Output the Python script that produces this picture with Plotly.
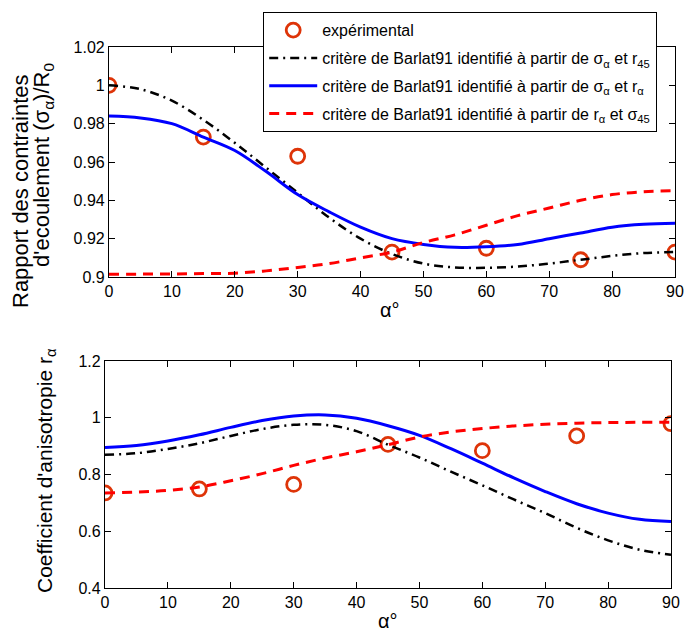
import plotly.graph_objects as go

# ---------------- data ----------------
angles_exp = [0, 15, 30, 45, 60, 75, 90]
sigma_exp = [1.000, 0.973, 0.963, 0.913, 0.915, 0.909, 0.913]
r_exp = [0.735, 0.749, 0.765, 0.906, 0.884, 0.936, 0.979]

angles = [0, 5, 10, 15, 20, 25, 30, 35, 40, 45, 50, 55, 60, 65, 70, 75, 80, 85, 90]

# top: yield stress ratio
sigma_s_r45 = [1.000, 0.998, 0.992, 0.982, 0.970, 0.957, 0.944, 0.931, 0.920, 0.912,
               0.907, 0.905, 0.9048, 0.9055, 0.907, 0.909, 0.911, 0.9125, 0.913]
sigma_s_r = [0.984, 0.983, 0.980, 0.973, 0.966, 0.955, 0.943, 0.934, 0.926, 0.920,
             0.917, 0.9155, 0.9158, 0.917, 0.920, 0.923, 0.926, 0.9275, 0.928]
sigma_r_s45 = [0.9015, 0.9015, 0.9016, 0.9018, 0.902, 0.9032, 0.905, 0.907, 0.910, 0.913,
               0.918, 0.922, 0.927, 0.932, 0.936, 0.940, 0.943, 0.9445, 0.945]

# bottom: anisotropy coefficient
r_s_r45 = [0.870, 0.875, 0.890, 0.910, 0.936, 0.960, 0.975, 0.975, 0.953, 0.905,
           0.860, 0.810, 0.762, 0.712, 0.664, 0.612, 0.568, 0.535, 0.517]
r_s_r = [0.895, 0.902, 0.918, 0.940, 0.966, 0.990, 1.006, 1.010, 0.998, 0.972,
         0.938, 0.891, 0.840, 0.788, 0.740, 0.697, 0.664, 0.642, 0.634]
r_r_s45 = [0.735, 0.738, 0.744, 0.756, 0.778, 0.803, 0.832, 0.858, 0.880, 0.905,
           0.932, 0.950, 0.962, 0.971, 0.977, 0.981, 0.983, 0.984, 0.984]

x_ticks = [0, 10, 20, 30, 40, 50, 60, 70, 80, 90]

name_exp = "expérimental"
name_a = "critère de Barlat91 identifié à partir de σ<sub>α</sub> et r<sub>45</sub>"
name_b = "critère de Barlat91 identifié à partir de σ<sub>α</sub> et r<sub>α</sub>"
name_c = "critère de Barlat91 identifié à partir de r<sub>α</sub> et σ<sub>45</sub>"

# ---------------- styles ----------------
FONT = "Liberation Sans, Arial, sans-serif"
RED_M = "rgb(222,52,8)"
W, H = 685, 633

fig = go.Figure()

def add_set(xa, ya, s1, s2, s3, exp, show):
    fig.add_trace(go.Scatter(x=angles_exp, y=exp, mode="markers", name=name_exp,
                             xaxis=xa, yaxis=ya, showlegend=show, legendgroup="g1",
                             marker=dict(symbol="circle-open", size=14, color=RED_M,
                                         line=dict(width=2.8, color=RED_M))))
    fig.add_trace(go.Scatter(x=angles, y=s1, mode="lines", name=name_a, line_shape="spline",
                             xaxis=xa, yaxis=ya, showlegend=show, legendgroup="g2",
                             line=dict(color="black", width=2.5, dash="9px,5px,2px,5px")))
    fig.add_trace(go.Scatter(x=angles, y=s2, mode="lines", name=name_b, line_shape="spline",
                             xaxis=xa, yaxis=ya, showlegend=show, legendgroup="g3",
                             line=dict(color="rgb(0,0,255)", width=3)))
    fig.add_trace(go.Scatter(x=angles, y=s3, mode="lines", name=name_c, line_shape="spline",
                             xaxis=xa, yaxis=ya, showlegend=show, legendgroup="g4",
                             line=dict(color="rgb(255,0,0)", width=3, dash="10px,7px")))

add_set("x", "y", sigma_s_r45, sigma_s_r, sigma_r_s45, sigma_exp, True)
add_set("x2", "y2", r_s_r45, r_s_r, r_r_s45, r_exp, False)

axis_common = dict(showline=True, linecolor="black", linewidth=1.2, mirror="ticks",
                   ticks="inside", ticklen=6, tickcolor="black", showgrid=False,
                   zeroline=False, automargin=False,
                   tickfont=dict(size=16, color="black", family=FONT))

# pixel layout
top = dict(l=109, r=675, t=47, b=277)
bot = dict(l=105, r=671, t=361, b=588)

fig.update_layout(
    width=W, height=H, margin=dict(l=0, r=0, t=0, b=0, pad=0, autoexpand=False),
    paper_bgcolor="white", plot_bgcolor="white",
    font=dict(family=FONT, color="black"),
    xaxis=dict(domain=[top["l"] / W, top["r"] / W], range=[0, 90], tickvals=x_ticks,
               anchor="y", **axis_common),
    yaxis=dict(domain=[1 - top["b"] / H, 1 - top["t"] / H], range=[0.9, 1.02], dtick=0.02,
               tick0=0.9, anchor="x", **axis_common),
    xaxis2=dict(domain=[bot["l"] / W, bot["r"] / W], range=[0, 90], tickvals=x_ticks,
                anchor="y2", **axis_common),
    yaxis2=dict(domain=[1 - bot["b"] / H, 1 - bot["t"] / H], range=[0.4, 1.2], dtick=0.2,
                tick0=0.4, anchor="x2", **axis_common),
    legend=dict(x=263 / W, y=1 - 12 / H, xanchor="left", yanchor="top",
                bgcolor="white", bordercolor="black", borderwidth=1.2,
                font=dict(size=16, family=FONT, color="black"),
                tracegroupgap=4, itemwidth=48),
    showlegend=True,
)

annots = [
    dict(text="Rapport des contraintes", x=21 / W, y=1 - 191 / H, textangle=-90,
         font=dict(size=22)),
    dict(text="d'ecoulement (σ<sub>α</sub>)/R<sub>0</sub>", x=43 / W, y=1 - 165 / H,
         textangle=-90, font=dict(size=22)),
    dict(text="Coefficient d'anisotropie r<sub>α</sub>",
         x=46 / W, y=1 - 471 / H, textangle=-90, font=dict(size=21)),
    dict(text="α°", x=390 / W, y=1 - 310 / H, font=dict(size=20)),
    dict(text="α°", x=388 / W, y=1 - 621 / H, font=dict(size=20)),
]
for a in annots:
    fig.add_annotation(xref="paper", yref="paper", showarrow=False,
                       xanchor="center", yanchor="middle", **a)

page_fix = ("document.documentElement.style.margin='0px';"
            "document.documentElement.style.overflow='hidden';"
            "document.body.style.margin='0px';"
            "document.body.style.overflow='hidden';")
fig.write_html("out.html", config={"displayModeBar": False}, post_script=page_fix)
